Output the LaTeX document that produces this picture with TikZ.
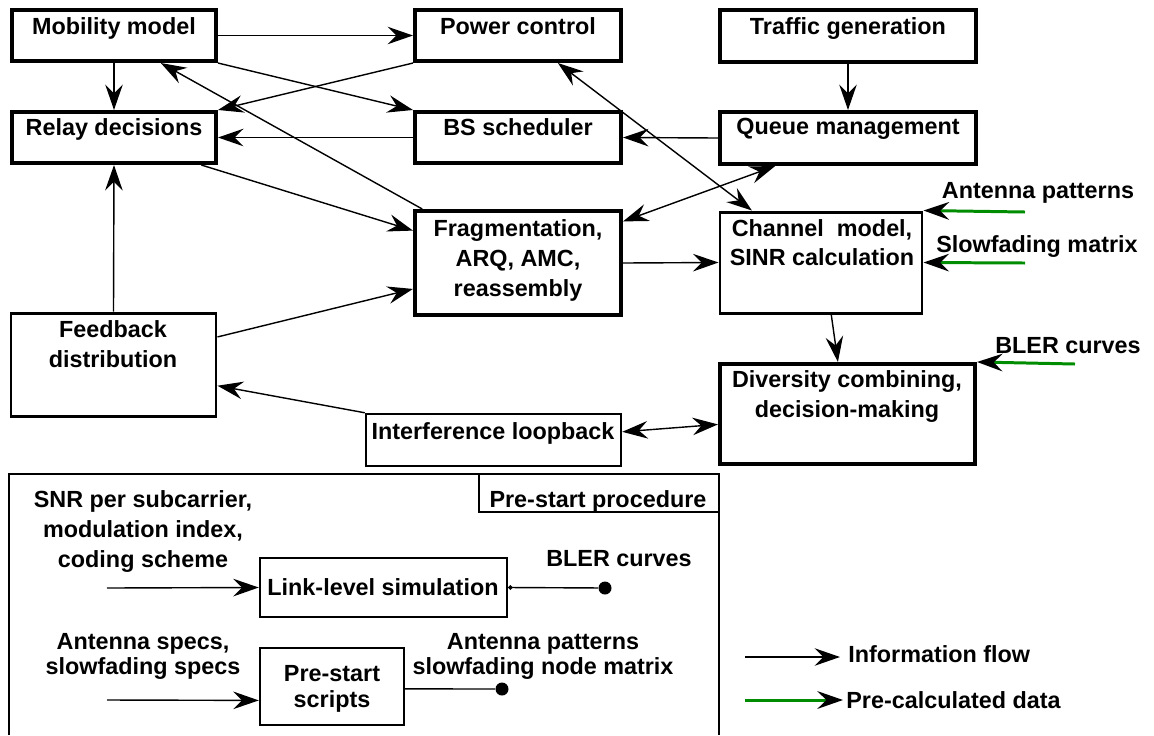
\documentclass[tikz,border=0pt]{standalone}
\usepackage{fontspec}
\setmainfont{Liberation Sans}
\usetikzlibrary{arrows.meta,calc,fit}
\definecolor{pgreen}{RGB}{0,140,0}
\begin{document}
\begin{tikzpicture}[x=0.02cm,y=-0.02cm,
  font=\fontsize{13.3}{17}\selectfont\bfseries,
  boxA/.style={draw, line width=2.3pt, inner sep=0pt},
  boxB/.style={draw, line width=1.7pt, inner sep=0pt},
  boxC/.style={draw, line width=1.4pt, inner sep=0pt},
  boxD/.style={draw, line width=1.2pt, inner sep=0pt},
  txt/.style={inner sep=0pt, anchor=north, align=center},
  tip/.tip={Stealth[length=14.5pt,width=10pt,inset=5pt]},
  flow/.style={line width=0.8pt, -tip},
  bflow/.style={line width=0.8pt, tip-tip},
  pre/.style={line width=1.7pt, draw=pgreen, -{Stealth[length=14.5pt,width=10pt,inset=5pt,black]}},
  dot/.style={circle, fill, inner sep=0pt, minimum size=0.26cm},
]
\useasboundingbox (0,0) rectangle (1154,735);

% ---- boxes
\node[boxA, fit={(12,10) (216,61)}] (mob) {};
\node[boxA, fit={(415,10) (621,61)}] (pow) {};
\node[boxA, fit={(720,10) (976,62)}] (traf) {};
\node[boxA, fit={(12,112) (216,163)}] (relay) {};
\node[boxA, fit={(415,112) (621,163)}] (bs) {};
\node[boxA, fit={(720,112) (976,164)}] (queue) {};
\node[boxA, fit={(415,211) (621,315)}] (frag) {};
\node[boxB, fit={(720,212) (922,313)}] (chan) {};
\node[boxB, fit={(11,313) (216,416)}] (feed) {};
\node[boxC, fit={(366,414) (621,466)}] (intf) {};
\node[boxA, fit={(720,364) (975,464)}] (div) {};

% ---- texts
\node[txt] (tmob) at (114,17) {Mobility model};
\node[txt] (tpow) at (518,17) {Power control};
\node[txt] (ttraf) at (848,17) {Traffic generation};
\node[txt] (trelay) at (114,118) {Relay decisions};
\node[txt] (tbs) at (518,118) {BS scheduler};
\node[txt] (tqueue) at (848,118) {Queue management};
\node[txt] (tfrag) at (518,219) {Fragmentation,\\ARQ, AMC,\\reassembly};
\node[txt, font=\fontsize{13.3}{16.4}\selectfont\bfseries] (tchan) at (822,219) {Channel\ \ model,\\SINR calculation};
\node[txt] (tfeed) at (113,320) {Feedback\\distribution};
\node[txt] (tintf) at (493,422) {Interference loopback};
\node[txt] (tdiv) at (847,370) {Diversity combining,\\decision-making};
\node[txt] (tant) at (1038,182) {Antenna patterns};
\node[txt] (tslow) at (1037,235) {Slowfading matrix};
\node[txt] (tbler) at (1068,337) {BLER curves};

% ---- connectors
\draw[flow] (mob.east) -- (pow.west);
\draw[flow] (mob.south) -- (relay.north);
\draw[flow] (mob.south east) -- (bs.north west);
\draw[flow] (pow.south west) -- (relay.north east);
\draw[flow] (bs.west) -- (relay.east);
\draw[flow] (queue.west) -- (bs.east);
\draw[flow] (traf.south) -- (queue.north);
\draw[bflow] ($(pow.south west)!0.69!(pow.south east)$) -- ($(chan.north west)!0.163!(chan.north east)$);
\draw[flow] ($(frag.north west)!0.044!(frag.north east)$) -- ($(mob.south west)!0.725!(mob.south east)$);
\draw[flow] ($(relay.south west)!0.92!(relay.south east)$) -- ($(frag.north west)!0.2!(frag.south west)$);
\draw[bflow] ($(frag.north east)!0.115!(frag.south east)$) -- ($(queue.south west)!0.22!(queue.south east)$);
\draw[flow] ($(feed.north east)!0.24!(feed.south east)$) -- ($(frag.north west)!0.74!(frag.south west)$);
\draw[flow] (intf.north west) -- ($(feed.north east)!0.7!(feed.south east)$);
\draw[flow] (feed.north) -- (relay.south);
\draw[flow] (frag.east) -- (chan.west);
\draw[flow] ($(chan.south west)!0.55!(chan.south east)$) -- ($(div.north west)!0.463!(div.north east)$);
\draw[bflow] ($(intf.north east)!0.35!(intf.south east)$) -- ($(div.north west)!0.6!(div.south west)$);

\coordinate (antsrc) at (1025,212);
\coordinate (slowsrc) at (1025,263);
\coordinate (blersrc) at (1075,364);
\draw[pre] (antsrc) -- (chan.north east);
\draw[pre] (slowsrc) -- (chan.east);
\draw[pre] (blersrc) -- (div.north east);

% ---- pre-start procedure
\draw[line width=1.2pt] (9,735) -- (9,474) -- (719,474) -- (719,735);
\node[boxD, fit={(479,474) (719,512)}] (psp) {};
\node[txt] (tpsp) at (598,490) {Pre-start procedure};
\node[txt] (tsnr) at (143,490) {SNR per subcarrier,\\modulation index,\\coding scheme};
\node[boxC, fit={(260,558) (507,617)}] (link) {};
\node[txt] (tlink) at (383,578) {Link-level simulation};
\node[txt] (tbler2) at (619,550) {BLER curves};
\node[dot] (d1) at (605,588) {};
\coordinate (in1) at (107,588);
\draw[flow] (in1) -- (link.west);
\draw[line width=0.8pt, {Circle[length=2.5pt]}-] (link.east) -- (d1);

\node[txt, font=\fontsize{13.3}{14}\selectfont\bfseries] (tspec) at (143,633) {Antenna specs,\\slowfading specs};
\node[boxC, fit={(260,648) (404,725)}] (ps) {};
\node[txt, font=\fontsize{13.3}{14.7}\selectfont\bfseries] (tps) at (332,665) {Pre-start\\scripts};
\node[txt, font=\fontsize{13.3}{14}\selectfont\bfseries] (tpat) at (543,633) {Antenna patterns\\slowfading node matrix};
\node[dot] (d2) at (502,689) {};
\coordinate (in2) at (107,700);
\draw[flow] (in2) -- ($(ps.north west)!0.675!(ps.south west)$);
\draw[line width=0.8pt] ($(ps.north east)!0.53!(ps.south east)$) -- (d2);

% ---- legend
\coordinate (l1a) at (745,657);
\coordinate (l1b) at (840,657);
\coordinate (l2a) at (745,700);
\coordinate (l2b) at (843,700);
\draw[flow] (l1a) -- (l1b);
\draw[pre] (l2a) -- (l2b);
\node[inner sep=0pt, anchor=base west] (tinfo) at (848,662) {Information flow};
\node[inner sep=0pt, anchor=base west] (tprec) at (846,708) {Pre-calculated data};
\end{tikzpicture}
\end{document}
